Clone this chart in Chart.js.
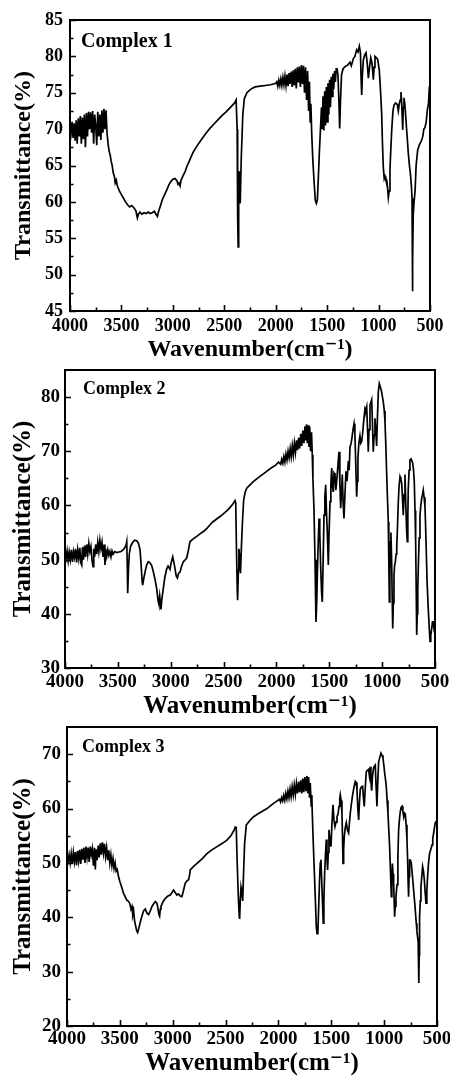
<!DOCTYPE html>
<html><head><meta charset="utf-8">
<script src="https://cdn.jsdelivr.net/npm/chart.js@4.4.1/dist/chart.umd.min.js"></script>
<style>
html,body{margin:0;padding:0;background:#fff;width:450px;height:1079px;overflow:hidden;position:relative}
.p{position:absolute;left:0;width:450px}
</style></head><body>
<div class="p" style="top:0;height:365px"><canvas id="c1"></canvas></div>
<div class="p" style="top:360px;height:365px"><canvas id="c2"></canvas></div>
<div class="p" style="top:715px;height:364px"><canvas id="c3"></canvas></div>
<script>
const FONT = "'Liberation Serif','DejaVu Serif',serif";
const xTickValues = [4000, 3500, 3000, 2500, 2000, 1500, 1000, 500];
const yTicks1 = [45, 50, 55, 60, 65, 70, 75, 80, 85];
const yTicks2 = [30, 40, 50, 60, 70, 80];
const yTicks3 = [20, 30, 40, 50, 60, 70];
const panelLabels = ['Complex 1', 'Complex 2', 'Complex 3'];
const xTitle = 'Wavenumber(cm\u207B\u00B9)';
const yTitle = 'Transmittance(%)';

const complex1 = [[4000,70.3],[3990,69.4],[3980,71.0],[3970,68.8],[3960,70.8],[3950,68.4],[3940,71.2],[3930,68.0],[3920,71.5],[3910,69.0],[3900,71.8],[3890,68.0],[3880,71.6],[3870,68.6],[3860,72.0],[3850,67.5],[3840,72.2],[3830,69.0],[3820,72.4],[3810,70.0],[3800,72.3],[3790,69.5],[3780,72.5],[3770,68.0],[3760,72.0],[3750,70.5],[3740,67.8],[3730,72.4],[3720,69.0],[3710,72.0],[3700,68.5],[3690,72.6],[3680,69.5],[3670,72.8],[3660,70.0],[3650,72.6],[3640,69.5],[3630,68.0],[3620,67.0],[3610,66.5],[3600,65.6],[3590,65.0],[3580,64.0],[3570,63.6],[3560,62.6],[3550,63.0],[3540,62.2],[3520,61.5],[3500,61.0],[3480,60.5],[3460,60.0],[3440,59.6],[3420,59.3],[3400,59.5],[3380,59.2],[3360,58.8],[3345,57.8],[3335,58.3],[3320,58.6],[3300,58.3],[3280,58.5],[3260,58.4],[3240,58.6],[3220,58.4],[3200,58.5],[3180,58.7],[3160,58.2],[3150,58.0],[3140,58.6],[3120,59.5],[3100,60.4],[3080,61.0],[3060,61.6],[3040,62.3],[3020,62.8],[3000,63.1],[2980,63.2],[2960,62.9],[2950,62.4],[2940,62.6],[2930,62.2],[2920,63.0],[2900,63.6],[2880,64.2],[2860,65.0],[2840,65.6],[2820,66.3],[2800,66.9],[2760,67.8],[2720,68.6],[2680,69.4],[2640,70.1],[2600,70.7],[2560,71.3],[2520,71.9],[2480,72.4],[2440,73.0],[2400,73.6],[2385,74.0],[2375,70.0],[2370,58.0],[2365,53.8],[2360,62.0],[2356,64.2],[2350,60.5],[2345,59.8],[2335,66.0],[2320,72.0],[2305,74.2],[2280,75.0],[2250,75.4],[2230,75.6],[2200,75.8],[2150,75.9],[2100,76.0],[2050,76.1],[2000,76.3],[1990,76.5],[1980,75.9],[1970,76.7],[1960,76.0],[1950,76.9],[1940,76.0],[1930,77.1],[1920,76.1],[1910,77.3],[1900,76.0],[1890,77.5],[1880,75.9],[1870,77.7],[1860,76.2],[1850,77.9],[1840,75.8],[1830,78.1],[1820,76.0],[1810,78.3],[1800,75.6],[1790,78.5],[1780,76.4],[1770,78.6],[1760,75.8],[1750,78.8],[1740,76.2],[1730,78.7],[1720,75.0],[1710,78.5],[1700,74.0],[1690,78.0],[1680,72.5],[1672,76.5],[1665,71.0],[1658,73.5],[1650,69.4],[1640,66.0],[1628,63.0],[1615,60.2],[1605,59.8],[1595,60.3],[1585,63.5],[1576,66.7],[1565,70.0],[1555,73.0],[1548,70.0],[1540,74.5],[1532,69.8],[1524,75.2],[1516,70.5],[1508,75.8],[1500,71.0],[1492,76.3],[1484,72.0],[1476,76.8],[1468,73.0],[1460,77.2],[1452,74.5],[1444,77.6],[1436,75.5],[1428,78.0],[1420,76.5],[1412,78.3],[1405,78.4],[1395,77.5],[1386,74.0],[1378,70.1],[1370,74.0],[1360,77.5],[1345,78.3],[1326,78.6],[1300,78.8],[1278,79.2],[1265,78.7],[1245,79.7],[1230,80.0],[1213,80.9],[1200,80.6],[1187,81.4],[1176,80.5],[1170,77.0],[1164,74.7],[1157,77.5],[1148,79.5],[1135,80.2],[1122,80.5],[1110,79.0],[1099,77.0],[1088,78.5],[1076,79.8],[1063,79.0],[1051,76.8],[1043,78.5],[1035,80.0],[1020,79.8],[1009,79.6],[993,78.1],[980,75.0],[970,72.2],[962,68.0],[954,64.8],[945,63.2],[937,63.5],[929,63.0],[921,63.0],[913,62.0],[905,60.6],[897,61.5],[889,64.5],[880,67.5],[872,69.9],[860,72.5],[850,73.3],[835,73.6],[818,73.4],[808,72.5],[798,73.5],[790,74.0],[782,75.1],[775,73.5],[768,71.0],[765,69.9],[760,73.0],[753,74.3],[745,73.5],[736,71.7],[725,69.5],[711,66.7],[700,65.0],[690,63.8],[680,62.0],[675,60.5],[672,58.5],[669,47.7],[666,52.0],[663,58.2],[655,60.0],[645,61.5],[635,65.0],[620,67.1],[605,67.8],[590,68.2],[581,68.5],[570,69.0],[560,70.0],[549,70.2],[537,71.0],[526,72.6],[515,73.5],[506,75.8],[500,76.0]];

const complex2 = [[4000,51.2],[3990,50.2],[3980,51.6],[3970,49.8],[3960,51.4],[3950,50.0],[3940,51.8],[3930,49.6],[3920,51.5],[3910,50.4],[3900,52.0],[3890,49.5],[3880,51.8],[3870,50.2],[3860,52.2],[3850,49.4],[3842,49.0],[3835,52.3],[3825,50.0],[3815,52.6],[3805,50.5],[3795,52.8],[3785,51.0],[3775,53.0],[3765,51.5],[3755,52.4],[3745,50.0],[3735,48.7],[3728,52.0],[3720,50.5],[3710,52.8],[3700,51.0],[3690,53.2],[3680,51.5],[3670,53.6],[3660,52.0],[3650,53.2],[3640,50.5],[3630,52.8],[3622,49.0],[3615,52.0],[3605,50.6],[3595,51.8],[3585,50.8],[3575,51.5],[3565,50.5],[3555,51.6],[3545,51.0],[3530,51.5],[3510,51.3],[3490,51.4],[3470,51.5],[3450,51.8],[3435,52.2],[3423,52.6],[3416,53.3],[3410,48.0],[3407,43.8],[3400,48.0],[3392,51.0],[3380,52.4],[3360,53.2],[3340,53.6],[3322,53.5],[3305,53.0],[3290,51.8],[3280,49.0],[3270,46.0],[3265,45.3],[3255,46.5],[3243,47.7],[3228,49.0],[3212,49.6],[3195,49.4],[3180,48.9],[3165,47.8],[3150,46.5],[3133,44.7],[3120,42.5],[3112,41.8],[3104,43.3],[3097,42.0],[3092,40.8],[3085,42.5],[3070,44.7],[3055,46.8],[3038,48.3],[3025,48.8],[3007,48.2],[2995,49.5],[2981,50.5],[2970,49.5],[2959,48.3],[2948,47.0],[2937,46.6],[2925,47.5],[2912,47.7],[2900,48.6],[2881,49.6],[2870,49.8],[2849,50.3],[2835,51.5],[2818,53.3],[2790,53.8],[2754,54.3],[2720,54.8],[2690,55.2],[2660,55.7],[2630,56.4],[2600,57.0],[2565,57.5],[2530,58.0],[2500,58.5],[2470,59.0],[2440,59.6],[2410,60.3],[2392,60.9],[2385,60.5],[2378,52.0],[2370,44.0],[2367,42.5],[2360,48.0],[2355,52.0],[2348,50.5],[2340,47.5],[2330,53.0],[2320,57.5],[2310,61.0],[2295,62.5],[2281,63.2],[2250,63.8],[2219,64.4],[2180,65.0],[2140,65.6],[2092,66.3],[2050,66.9],[2010,67.4],[1980,68.0],[1960,67.6],[1950,68.5],[1940,67.8],[1930,69.0],[1920,68.0],[1910,69.5],[1900,68.4],[1890,70.0],[1880,68.8],[1870,70.5],[1860,69.0],[1850,71.0],[1840,69.3],[1830,71.5],[1820,69.8],[1810,72.0],[1800,70.2],[1790,72.5],[1780,70.5],[1770,73.2],[1760,71.0],[1750,73.8],[1740,71.5],[1730,74.6],[1722,72.0],[1715,75.0],[1708,71.5],[1700,74.8],[1692,70.8],[1685,74.5],[1677,70.0],[1668,73.5],[1661,69.3],[1655,65.0],[1645,59.5],[1635,50.0],[1626,38.5],[1619,42.0],[1613,47.1],[1605,53.0],[1597,57.6],[1590,55.0],[1581,48.4],[1573,44.0],[1566,42.2],[1558,50.0],[1550,58.2],[1542,61.5],[1534,63.8],[1527,59.0],[1519,55.2],[1509,49.0],[1502,55.0],[1493,60.7],[1485,64.0],[1477,66.9],[1470,63.5],[1462,62.5],[1455,66.0],[1446,65.7],[1438,62.8],[1430,64.5],[1420,67.0],[1412,69.0],[1408,69.9],[1400,64.0],[1392,59.5],[1385,62.5],[1377,65.7],[1369,60.5],[1361,57.6],[1352,62.0],[1342,66.3],[1332,64.5],[1320,68.2],[1312,66.5],[1304,70.8],[1293,71.5],[1282,73.0],[1274,74.2],[1266,75.1],[1258,73.5],[1250,68.0],[1241,61.6],[1235,64.5],[1229,68.8],[1220,71.5],[1210,72.8],[1202,71.5],[1194,71.8],[1186,73.0],[1178,74.8],[1170,76.5],[1162,77.9],[1154,77.5],[1146,78.2],[1139,74.5],[1131,69.9],[1124,74.0],[1115,78.5],[1107,79.0],[1099,79.5],[1092,75.5],[1084,69.9],[1076,73.0],[1068,76.1],[1060,73.5],[1052,71.0],[1045,76.0],[1036,81.0],[1027,82.5],[1016,81.8],[1005,81.0],[997,80.0],[989,79.1],[980,77.5],[973,75.4],[965,71.0],[957,65.7],[950,61.5],[942,57.0],[937,50.0],[932,42.2],[927,47.0],[923,53.3],[917,55.0],[910,49.6],[905,43.0],[900,37.3],[894,42.0],[888,47.1],[882,49.0],[875,49.6],[868,51.0],[862,52.1],[855,56.0],[847,60.7],[840,63.5],[831,65.3],[823,64.8],[815,64.1],[808,61.5],[800,58.2],[792,62.0],[784,65.7],[776,60.0],[768,55.2],[762,53.3],[757,58.0],[753,63.0],[745,66.5],[737,68.4],[725,68.6],[711,67.8],[703,66.5],[696,64.4],[689,59.0],[683,53.3],[678,45.0],[673,36.1],[668,40.0],[663,44.5],[658,48.4],[650,54.0],[642,58.2],[634,60.0],[626,61.3],[618,62.0],[611,62.8],[603,61.5],[595,59.8],[590,57.0],[585,53.3],[575,46.0],[564,41.0],[556,38.0],[547,34.9],[540,36.0],[531,37.3],[524,38.5],[516,38.5],[508,37.0],[500,36.1]];

const complex3 = [[4000,51.2],[3990,50.3],[3980,51.5],[3970,50.0],[3960,51.7],[3950,49.8],[3940,51.9],[3930,50.2],[3920,52.0],[3910,49.6],[3900,52.2],[3890,50.4],[3880,52.4],[3870,49.8],[3860,52.6],[3850,50.6],[3840,52.8],[3830,50.0],[3820,53.0],[3810,51.0],[3800,52.8],[3790,50.2],[3780,53.0],[3770,51.5],[3760,52.6],[3750,49.5],[3740,52.8],[3732,48.8],[3725,52.5],[3715,50.5],[3705,53.2],[3695,51.0],[3685,53.6],[3675,51.5],[3665,53.8],[3655,51.8],[3645,53.5],[3635,51.2],[3625,52.8],[3615,50.5],[3605,52.3],[3595,50.0],[3585,51.5],[3575,49.5],[3565,50.8],[3555,49.0],[3545,50.0],[3535,48.5],[3525,48.8],[3512,47.4],[3500,46.6],[3480,45.4],[3465,44.4],[3450,43.8],[3435,43.2],[3417,42.9],[3405,42.5],[3395,41.5],[3385,42.0],[3378,40.5],[3370,41.2],[3362,39.5],[3354,38.7],[3340,37.5],[3332,37.2],[3320,38.0],[3307,39.1],[3290,40.3],[3275,41.2],[3259,41.5],[3245,40.8],[3228,40.5],[3212,41.2],[3196,42.0],[3180,42.5],[3165,42.9],[3150,42.6],[3143,42.0],[3130,40.5],[3124,40.2],[3117,41.5],[3111,42.0],[3090,42.9],[3070,43.5],[3045,43.9],[3023,44.1],[3005,44.6],[2992,45.0],[2975,44.5],[2961,44.1],[2945,44.3],[2930,43.9],[2913,43.8],[2900,44.8],[2881,46.3],[2865,46.7],[2850,46.9],[2840,47.8],[2834,48.7],[2800,49.4],[2770,49.9],[2720,50.8],[2676,51.7],[2630,52.4],[2581,53.0],[2530,53.6],[2487,54.2],[2450,55.0],[2420,56.0],[2408,56.6],[2399,56.5],[2390,50.0],[2380,44.0],[2370,40.0],[2367,39.7],[2360,43.5],[2354,45.5],[2346,44.5],[2338,43.0],[2330,48.0],[2320,53.5],[2304,57.0],[2270,57.8],[2235,58.5],[2180,59.2],[2108,60.0],[2050,60.9],[1990,61.7],[1980,61.2],[1970,62.0],[1960,61.4],[1950,62.4],[1940,61.5],[1930,62.8],[1920,61.8],[1910,63.2],[1900,62.0],[1890,63.6],[1880,62.2],[1870,64.0],[1860,62.5],[1850,64.3],[1840,62.6],[1830,64.6],[1820,62.8],[1810,64.9],[1800,63.0],[1790,65.2],[1780,62.8],[1770,65.5],[1760,63.0],[1750,65.8],[1740,63.2],[1730,66.0],[1722,62.8],[1714,65.8],[1706,62.0],[1699,64.7],[1690,60.5],[1684,62.5],[1680,59.2],[1670,53.5],[1661,48.7],[1650,43.0],[1642,38.3],[1635,37.0],[1627,37.1],[1619,42.0],[1611,46.9],[1604,50.0],[1598,50.6],[1591,47.0],[1585,43.8],[1576,38.9],[1570,43.0],[1563,48.1],[1555,51.5],[1547,54.3],[1541,51.0],[1535,48.7],[1528,52.0],[1522,56.1],[1512,54.0],[1503,53.0],[1494,57.0],[1484,60.7],[1475,58.0],[1465,56.7],[1455,57.5],[1446,58.5],[1436,59.0],[1427,60.4],[1420,61.8],[1415,62.5],[1407,61.5],[1399,59.2],[1394,55.0],[1389,49.9],[1383,52.5],[1377,54.9],[1368,56.5],[1358,57.4],[1347,56.0],[1336,55.5],[1328,57.5],[1320,59.2],[1309,61.0],[1298,62.5],[1285,64.0],[1273,65.0],[1265,64.8],[1257,63.5],[1249,60.0],[1241,57.9],[1234,61.0],[1226,63.5],[1215,64.0],[1204,64.1],[1196,62.0],[1188,60.4],[1178,64.0],[1169,66.8],[1158,67.0],[1147,67.2],[1139,66.0],[1131,67.7],[1125,65.0],[1118,63.3],[1110,66.0],[1100,67.5],[1092,67.8],[1084,68.0],[1076,64.0],[1068,60.4],[1060,65.0],[1052,68.6],[1040,69.5],[1030,70.2],[1020,69.8],[1011,69.3],[1003,68.0],[995,66.5],[988,65.5],[980,64.1],[972,61.5],[964,59.2],[956,56.0],[948,53.0],[940,48.5],[932,43.8],[927,46.5],[922,49.9],[916,48.0],[910,46.2],[905,43.0],[901,40.1],[895,42.0],[888,43.8],[883,45.0],[878,46.0],[870,51.0],[863,56.1],[855,58.0],[847,59.5],[839,60.2],[831,60.4],[823,59.5],[815,58.5],[808,59.2],[800,59.0],[792,57.0],[784,54.3],[778,50.6],[773,46.5],[769,43.8],[764,47.5],[759,50.5],[751,50.5],[743,49.9],[732,47.5],[721,45.0],[708,42.0],[696,38.9],[690,37.5],[684,36.4],[678,35.5],[673,30.0],[671,27.9],[668,33.0],[665,40.1],[658,43.0],[652,45.6],[644,47.5],[636,49.3],[628,48.5],[620,46.9],[612,44.5],[604,42.6],[596,45.0],[589,47.5],[580,50.0],[570,51.8],[558,52.5],[547,53.3],[540,54.5],[532,55.5],[524,56.5],[516,57.4],[508,57.6],[500,57.8]];

const frameTicks = {
  id: 'frameTicks',
  afterDraw(chart, args, o) {
    const {ctx, chartArea: a, scales: {x, y}} = chart;
    ctx.save();
    ctx.strokeStyle = '#000';
    ctx.lineWidth = 2;
    ctx.strokeRect(a.left, a.top, a.right - a.left, a.bottom - a.top);
    ctx.lineWidth = 1.6;
    const vals = sc => sc.ticks.map(t => t.value).sort((p, q) => p - q);
    const xv = vals(x), yv = vals(y);
    ctx.beginPath();
    xv.forEach((v, i) => {
      const px = Math.round(x.getPixelForValue(v)) + 0.5;
      ctx.moveTo(px, a.bottom); ctx.lineTo(px, a.bottom - 6);
      if (i < xv.length - 1) {
        const pm = Math.round(x.getPixelForValue((v + xv[i + 1]) / 2)) + 0.5;
        ctx.moveTo(pm, a.bottom); ctx.lineTo(pm, a.bottom - 3.5);
      }
    });
    yv.forEach((v, i) => {
      const py = Math.round(y.getPixelForValue(v)) + 0.5;
      ctx.moveTo(a.left, py); ctx.lineTo(a.left + 6, py);
      if (i < yv.length - 1) {
        const pm = Math.round(y.getPixelForValue((v + yv[i + 1]) / 2)) + 0.5;
        ctx.moveTo(a.left, pm); ctx.lineTo(a.left + 3.5, pm);
      }
    });
    ctx.stroke();
    ctx.fillStyle = '#000';
    ctx.font = 'bold ' + o.size + 'px ' + FONT;
    ctx.textAlign = 'left';
    ctx.textBaseline = 'alphabetic';
    ctx.fillText(o.text, a.left + o.dx, a.top + o.dy);
    ctx.restore();
  }
};

function makeChart(id, data, yTicks, cfg) {
  const tickFont = {family: FONT, size: cfg.tickSize, weight: 'bold', lineHeight: 1};
  const titleFont = {family: FONT, size: cfg.titleSize, weight: 'bold', lineHeight: 1};
  return new Chart(document.getElementById(id), {
    type: 'line',
    data: {datasets: [{
      data: data.map(([x, y]) => ({x, y})),
      borderColor: '#000', borderWidth: 1.7, pointRadius: 0, tension: 0, fill: false
    }]},
    options: {
      responsive: true, maintainAspectRatio: false, animation: false, devicePixelRatio: 1,
      layout: {padding: {top: cfg.padTop, right: cfg.padRight, left: 0, bottom: 0}},
      plugins: {legend: {display: false}, tooltip: {enabled: false},
        frameTicks: {text: cfg.label, size: cfg.labelSize, dx: cfg.labelDx, dy: cfg.labelDy}},
      scales: {
        x: {
          type: 'linear', position: 'bottom', min: 500, max: 4000, reverse: true,
          grid: {display: false, drawTicks: false}, border: {display: false},
          afterBuildTicks: s => { s.ticks = xTickValues.map(v => ({value: v})); },
          afterFit: s => { s.height = cfg.xH; s.paddingLeft = 0; s.paddingRight = 0; },
          ticks: {autoSkip: false, maxRotation: 0, color: '#000', font: tickFont, padding: cfg.xTickPad,
            callback: v => String(v)},
          title: {display: true, text: xTitle, color: '#000', font: titleFont, padding: {top: 0, bottom: cfg.xTitlePad}}
        },
        y: {
          type: 'linear', position: 'left', min: yTicks[0], max: cfg.yMax,
          grid: {display: false, drawTicks: false}, border: {display: false},
          afterBuildTicks: s => { s.ticks = yTicks.map(v => ({value: v})); },
          afterFit: s => { s.width = cfg.yW; s.paddingTop = 0; s.paddingBottom = 0; },
          ticks: {autoSkip: false, color: '#000', font: tickFont, padding: cfg.yTickPad,
            callback: v => String(v)},
          title: {display: true, text: yTitle, color: '#000', font: titleFont, padding: {top: cfg.yTitlePad, bottom: 0}}
        }
      }
    },
    plugins: [frameTicks]
  });
}

makeChart('c1', complex1, yTicks1, {label: panelLabels[0], labelSize: 20, labelDx: 11, labelDy: 27,
  yMax: 85, padTop: 20, padRight: 20, yW: 70, xH: 54, tickSize: 18, titleSize: 24,
  xTickPad: 6, yTickPad: 7, xTitlePad: 3, yTitlePad: 12});
makeChart('c2', complex2, yTicks2, {label: panelLabels[1], labelSize: 18, labelDx: 18, labelDy: 24,
  yMax: 85, padTop: 10, padRight: 15, yW: 65, xH: 57, tickSize: 19, titleSize: 25,
  xTickPad: 5, yTickPad: 5, xTitlePad: 6, yTitlePad: 11});
makeChart('c3', complex3, yTicks3, {label: panelLabels[2], labelSize: 18, labelDx: 15, labelDy: 25,
  yMax: 75, padTop: 12, padRight: 13, yW: 67, xH: 53, tickSize: 19, titleSize: 25,
  xTickPad: 4, yTickPad: 6, xTitlePad: 3, yTitlePad: 11});
</script>
</body></html>
